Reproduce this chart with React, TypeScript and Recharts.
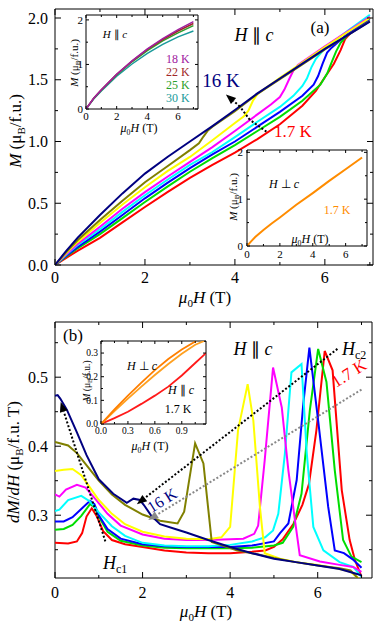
import React from 'react';
import { LineChart, Line, XAxis, YAxis, ReferenceArea, ReferenceLine } from 'recharts';

const FONT = "'Liberation Serif', 'Times New Roman', serif";
type P = [number, number];

// ---------- Panel (a): M(H), H || c  [T, muB/f.u.] ----------
const aRed: P[] = [[0,0],[0.25,0.058],[0.5,0.115],[1,0.22],[1.5,0.345],[2,0.47],[2.5,0.59],[3,0.705],[3.5,0.81],[4,0.91],[4.5,1.02],[5,1.14],[5.5,1.29],[5.8,1.41],[6.0,1.52],[6.2,1.63],[6.35,1.74],[6.45,1.83],[6.55,1.87],[7,2.0]];
const aGreen: P[] = [[0,0],[0.25,0.07],[0.5,0.135],[1,0.25],[1.5,0.38],[2,0.51],[2.5,0.635],[3,0.755],[3.5,0.865],[4,0.97],[4.5,1.085],[5,1.2],[5.5,1.33],[5.9,1.46],[6.05,1.55],[6.15,1.64],[6.25,1.73],[6.35,1.8],[6.5,1.86],[7,2.0]];
const aBlue: P[] = [[0,0],[0.25,0.075],[0.5,0.145],[1,0.27],[1.5,0.405],[2,0.54],[2.5,0.665],[3,0.785],[3.5,0.895],[4,1.0],[4.5,1.12],[5,1.24],[5.5,1.37],[5.75,1.46],[5.85,1.53],[5.95,1.63],[6.05,1.72],[6.15,1.76],[6.5,1.87],[7,1.99]];
const aCyan: P[] = [[0,0],[0.25,0.083],[0.5,0.16],[1,0.29],[1.5,0.43],[2,0.565],[2.5,0.69],[3,0.81],[3.5,0.915],[4,1.035],[4.5,1.16],[5,1.28],[5.3,1.37],[5.5,1.45],[5.6,1.51],[5.7,1.6],[5.8,1.67],[6,1.755],[6.5,1.895],[7,2.025]];
const aMagenta: P[] = [[0,0],[0.25,0.088],[0.5,0.17],[1,0.31],[1.5,0.455],[2,0.59],[2.5,0.715],[3,0.835],[3.5,0.955],[4,1.085],[4.5,1.22],[4.8,1.3],[5,1.36],[5.1,1.42],[5.2,1.5],[5.3,1.575],[5.4,1.62],[6,1.77],[6.5,1.89],[7,2.01]];
const aYellow: P[] = [[0,0],[0.25,0.097],[0.5,0.185],[1,0.34],[1.5,0.49],[2,0.63],[2.5,0.76],[3,0.875],[3.5,1.01],[4,1.15],[4.2,1.205],[4.3,1.25],[4.4,1.33],[4.5,1.385],[5,1.515],[5.5,1.64],[6,1.765],[6.5,1.885],[7,2.0]];
const aOlive: P[] = [[0,0],[0.25,0.105],[0.5,0.2],[1,0.365],[1.5,0.52],[2,0.67],[2.5,0.8],[3,0.93],[3.2,0.985],[3.3,1.04],[3.4,1.09],[3.5,1.12],[4,1.245],[4.5,1.385],[5,1.505],[5.5,1.625],[6,1.745],[6.5,1.86],[7,1.975]];
const aNavy: P[] = [[0,0],[0.25,0.115],[0.5,0.22],[1,0.405],[1.5,0.58],[2,0.74],[2.5,0.875],[3,1.0],[3.5,1.125],[4,1.255],[4.5,1.39],[5,1.51],[5.5,1.63],[6,1.75],[6.5,1.86],[7,1.97]];

// inset a1: higher temperatures, H || c
const i18K: P[] = [[0,0],[0.5,0.24],[1,0.43],[2,0.78],[3,1.08],[4,1.35],[5,1.58],[6,1.78],[7,1.96]];
const i22K: P[] = [[0,0],[0.5,0.24],[1,0.43],[2,0.78],[3,1.075],[4,1.34],[5,1.56],[6,1.75],[7,1.92]];
const i25K: P[] = [[0,0],[0.5,0.235],[1,0.42],[2,0.765],[3,1.06],[4,1.31],[5,1.53],[6,1.71],[7,1.87]];
const i30K: P[] = [[0,0],[0.5,0.225],[1,0.405],[2,0.735],[3,1.01],[4,1.25],[5,1.45],[6,1.62],[7,1.75]];
// inset a2: H perp c, 1.7 K
const iPerp: P[] = [[0,0],[0.25,0.1],[0.5,0.19],[1,0.34],[1.5,0.48],[2,0.61],[3,0.88],[4,1.13],[5,1.39],[6,1.64],[7,1.89]];

// ---------- Panel (b): dM/dH ----------
const bRed: P[] = [[0,0.26],[0.3,0.259],[0.5,0.262],[0.62,0.274],[0.72,0.298],[0.84,0.31],[0.95,0.299],[1.1,0.277],[1.3,0.264],[1.6,0.258],[2,0.254],[2.5,0.249],[3,0.246],[3.5,0.245],[4,0.245],[4.5,0.247],[4.8,0.249],[5.0,0.254],[5.2,0.265],[5.45,0.288],[5.65,0.315],[5.8,0.345],[5.97,0.423],[6.16,0.538],[6.34,0.51],[6.55,0.336],[6.73,0.264],[6.85,0.235],[7,0.211]];
const bGreen: P[] = [[0,0.279],[0.2,0.28],[0.4,0.286],[0.6,0.299],[0.8,0.316],[0.9,0.312],[1.0,0.298],[1.2,0.276],[1.5,0.263],[2,0.256],[2.5,0.253],[3,0.252],[3.5,0.252],[4,0.252],[4.5,0.253],[5.0,0.256],[5.2,0.26],[5.44,0.283],[5.63,0.331],[5.82,0.452],[6.01,0.541],[6.2,0.493],[6.39,0.365],[6.58,0.264],[6.77,0.24],[7,0.232]];
const bBlue: P[] = [[0,0.291],[0.2,0.291],[0.4,0.297],[0.6,0.309],[0.8,0.321],[0.9,0.316],[1.0,0.3],[1.2,0.28],[1.5,0.266],[2,0.258],[2.5,0.255],[3,0.254],[3.5,0.254],[4,0.254],[4.5,0.256],[5.0,0.262],[5.14,0.274],[5.33,0.288],[5.52,0.351],[5.67,0.461],[5.81,0.543],[6.01,0.437],[6.24,0.312],[6.39,0.249],[6.6,0.245],[6.8,0.236],[7,0.224]];
const bCyan: P[] = [[0,0.306],[0.1,0.308],[0.3,0.322],[0.6,0.328],[0.8,0.32],[1.0,0.304],[1.3,0.284],[1.6,0.27],[2,0.26],[2.5,0.256],[3,0.255],[3.5,0.255],[4,0.257],[4.5,0.262],[4.8,0.268],[4.98,0.278],[5.1,0.302],[5.25,0.389],[5.4,0.507],[5.63,0.519],[5.75,0.39],[5.9,0.283],[6.13,0.249],[6.5,0.232],[6.81,0.225],[7,0.211]];
const bMagenta: P[] = [[0,0.33],[0.1,0.327],[0.25,0.337],[0.5,0.344],[0.7,0.34],[0.9,0.325],[1.2,0.302],[1.5,0.285],[2,0.272],[2.5,0.266],[3,0.264],[3.5,0.264],[4,0.265],[4.3,0.266],[4.55,0.273],[4.64,0.285],[4.79,0.38],[4.98,0.514],[5.18,0.456],[5.33,0.365],[5.48,0.293],[5.59,0.242],[6.05,0.233],[6.5,0.228],[6.81,0.225],[7,0.218]];
const bYellow: P[] = [[0,0.364],[0.2,0.366],[0.4,0.367],[0.6,0.358],[0.8,0.34],[1.0,0.322],[1.3,0.302],[1.6,0.287],[2,0.276],[2.5,0.269],[3,0.266],[3.5,0.265],[3.8,0.268],[4.0,0.283],[4.18,0.423],[4.4,0.49],[4.53,0.437],[4.68,0.312],[4.79,0.245],[5.14,0.237],[5.5,0.232],[6,0.228],[6.5,0.222],[6.75,0.218],[7,0.205]];
const bOlive: P[] = [[0,0.406],[0.3,0.401],[0.5,0.39],[0.8,0.366],[1.0,0.35],[1.3,0.33],[1.6,0.315],[2,0.301],[2.4,0.292],[2.8,0.288],[2.95,0.305],[3.05,0.345],[3.2,0.404],[3.39,0.375],[3.58,0.261],[4.15,0.249],[4.5,0.245],[5,0.238],[5.5,0.232],[6,0.227],[6.5,0.223],[6.75,0.22],[7,0.203]];
const bNavy: P[] = [[0,0.473],[0.06,0.474],[0.12,0.469],[0.27,0.453],[0.5,0.42],[0.72,0.387],[1.0,0.352],[1.33,0.331],[1.64,0.318],[1.79,0.324],[1.94,0.322],[2.05,0.313],[2.2,0.299],[2.4,0.287],[2.8,0.279],[3.0,0.275],[3.5,0.264],[4,0.254],[4.5,0.245],[5,0.237],[5.5,0.232],[6,0.227],[6.5,0.222],[7,0.213]];

// inset b: low-field M(H) at 1.7 K
const ibPerp1: P[] = [[0,0],[0.15,0.062],[0.3,0.12],[0.45,0.175],[0.6,0.228],[0.75,0.275],[0.9,0.315],[1.06,0.351]];
const ibPerp2: P[] = [[0,0],[0.15,0.055],[0.3,0.107],[0.45,0.158],[0.6,0.207],[0.75,0.254],[0.9,0.297],[1.05,0.335],[1.15,0.351]];
const ibPar: P[] = [[0,0],[0.15,0.025],[0.3,0.052],[0.45,0.085],[0.6,0.12],[0.75,0.158],[0.9,0.205],[1.05,0.258],[1.17,0.3]];

// ---------- ticks ----------
const aXTicks = [0,1,2,3,4,5,6,7];
const aXLabels = ['0','','2','','4','','6',''];
const aYTicks = [0,0.25,0.5,0.75,1,1.25,1.5,1.75,2];
const aYLabels = ['0.0','','0.5','','1.0','','1.5','','2.0'];
const bYTicks = [0.25,0.3,0.35,0.4,0.45,0.5,0.55];
const bYLabels = ['','0.3','','0.4','','0.5',''];
const iXTicks = [0,1,2,3,4,5,6,7];
const iXLabels = ['0','','2','','4','','6',''];
const iYTicks = [0,0.5,1,1.5,2];
const iYLabels = ['0','','1','','2'];
const ibXTicks = [0,0.15,0.3,0.45,0.6,0.75,0.9,1.05];
const ibXLabels = ['0.0','','0.3','','0.6','','0.9',''];
const ibYTicks = [0,0.05,0.1,0.15,0.2,0.25,0.3,0.35];
const ibYLabels = ['0.0','','0.1','','0.2','','0.3',''];

const pts = (a: P[]) => a.map(([h, v]) => ({ h, v }));

const xTick = (ticks: number[], labels: string[], top: number, fs: number, dy: number, maj: number, mnr: number) => (p: any) => {
  const i = ticks.indexOf(p.payload.value);
  const lab = i >= 0 ? labels[i] : '';
  const len = lab ? maj : mnr;
  return (
    <g>
      <line x1={p.x} x2={p.x} y1={p.y} y2={p.y - len} stroke="#000" strokeWidth={1} />
      <line x1={p.x} x2={p.x} y1={top} y2={top + len} stroke="#000" strokeWidth={1} />
      {lab ? <text x={p.x} y={p.y + dy} textAnchor="middle" fontSize={fs} fontFamily={FONT} fill="#000">{lab}</text> : null}
    </g>
  );
};
const yTick = (ticks: number[], labels: string[], right: number, fs: number, dx: number, maj: number, mnr: number) => (p: any) => {
  const i = ticks.indexOf(p.payload.value);
  const lab = i >= 0 ? labels[i] : '';
  const len = lab ? maj : mnr;
  return (
    <g>
      <line x1={p.x} x2={p.x + len} y1={p.y} y2={p.y} stroke="#000" strokeWidth={1} />
      <line x1={right - len} x2={right} y1={p.y} y2={p.y} stroke="#000" strokeWidth={1} />
      {lab ? <text x={p.x - dx} y={p.y} dy="0.35em" textAnchor="end" fontSize={fs} fontFamily={FONT} fill="#000">{lab}</text> : null}
    </g>
  );
};

const arrow = (color: string, head: boolean) => (p: any) => {
  const { x1, y1, x2, y2 } = p;
  const a = Math.atan2(y2 - y1, x2 - x1);
  const L = 10, W = 4;
  const bx = x2 - L * Math.cos(a), by = y2 - L * Math.sin(a);
  const nx = -Math.sin(a) * W, ny = Math.cos(a) * W;
  return (
    <g>
      <line x1={x1} y1={y1} x2={head ? bx : x2} y2={head ? by : y2} stroke={color} strokeWidth={2} strokeDasharray="2 2" />
      {head ? <polygon points={`${x2},${y2} ${bx + nx},${by + ny} ${bx - nx},${by - ny}`} fill={color} /> : null}
    </g>
  );
};

const series = (d: P[], color: string, w = 2, key = '') => (
  <Line key={key || color} data={pts(d)} dataKey="v" type="linear" stroke={color} strokeWidth={w} dot={false} activeDot={false} isAnimationActive={false} />
);

function Plot(props: any) {
  const { w, h, x, y, m, yW, xH, xDom, yDom, xT, xL, yT, yL, fs, maj, mnr, xDy, yDx, children } = props;
  const right = w - m.right;
  return (
    <div style={{ position: 'absolute', left: x, top: y }}>
      <LineChart width={w} height={h} margin={m}>
        <XAxis type="number" dataKey="h" domain={xDom} ticks={xT} interval={0} allowDataOverflow tickLine={false} axisLine={false} tickSize={0} tickMargin={0} height={xH} tick={xTick(xT, xL, m.top, fs, xDy, maj, mnr)} />
        <YAxis type="number" dataKey="v" domain={yDom} ticks={yT} interval={0} allowDataOverflow tickLine={false} axisLine={false} tickSize={0} tickMargin={0} width={yW} tick={yTick(yT, yL, right, fs, yDx, maj, mnr)} />
        <ReferenceArea x1={xDom[0]} x2={xDom[1]} y1={yDom[0]} y2={yDom[1]} fill="none" stroke="#000" strokeWidth={1} ifOverflow="visible" />
        {children}
      </LineChart>
    </div>
  );
}

const It = ({ children }: any) => <tspan fontStyle="italic">{children}</tspan>;
const Mu0H = ({ s }: { s: number }) => (
  <>
    <tspan fontStyle="italic">μ</tspan>
    <tspan fontSize={s * 0.65} dy={s * 0.22}>0</tspan>
    <tspan fontStyle="italic" dy={-s * 0.22}>H</tspan>
    <tspan>{' (T)'}</tspan>
  </>
);
const MuB = ({ s, pre, post }: { s: number; pre: any; post: string }) => (
  <>
    {pre}
    <tspan>{' (μ'}</tspan>
    <tspan fontSize={s * 0.65} dy={s * 0.22}>B</tspan>
    <tspan dy={-s * 0.22}>{post}</tspan>
  </>
);
const HPar = () => (<><It>H</It><tspan>{' ∥ '}</tspan><It>c</It></>);
const HPerp = () => (<><It>H</It><tspan>{' ⊥ '}</tspan><It>c</It></>);

export default function App() {
  const mainA = { top: 9, right: 9, bottom: 0, left: 0 };
  const mainB = { top: 22, right: 10, bottom: 0, left: 0 };
  return (
    <div style={{ position: 'absolute', left: 0, top: 0, width: 382, height: 625, background: '#fff', fontFamily: FONT, overflow: 'hidden' }}>
      {/* Panel (a) */}
      <Plot w={382} h={300} x={0} y={0} m={mainA} yW={55} xH={35} xDom={[0, 7.07]} yDom={[0, 2.073]}
        xT={aXTicks} xL={aXLabels} yT={aYTicks} yL={aYLabels} fs={16} maj={6} mnr={3} xDy={18} yDx={7}>
        {series(aRed, '#ff0000')}
        {series(aGreen, '#00dd00')}
        {series(aBlue, '#0000ff')}
        {series(aCyan, '#00ffff')}
        {series(aMagenta, '#ff00ff')}
        {series(aYellow, '#ffff00')}
        {series(aOlive, '#808000')}
        {series(aNavy, '#000080')}
        <ReferenceLine segment={[{ x: 4.7, y: 1.08 }, { x: 4.33, y: 1.176 }]} ifOverflow="visible" shape={arrow('#000', false)} />
        <ReferenceLine segment={[{ x: 4.33, y: 1.176 }, { x: 4.11, y: 1.284 }]} ifOverflow="visible" shape={arrow('#000', false)} />
        <ReferenceLine segment={[{ x: 4.11, y: 1.284 }, { x: 3.8, y: 1.38 }]} ifOverflow="visible" shape={arrow('#000', true)} />
      </Plot>
      {/* inset a1 */}
      <Plot w={145} h={125} x={60} y={5} m={{ top: 10, right: 7, bottom: 0, left: 0 }} yW={26} xH={21} xDom={[0, 7.3]} yDom={[0, 2.11]}
        xT={iXTicks} xL={iXLabels} yT={iYTicks} yL={iYLabels} fs={11} maj={3} mnr={2} xDy={11} yDx={3}>
        {series(i30K, '#1a9a9a', 1.5)}
        {series(i25K, '#2ca02c', 1.5)}
        {series(i22K, '#a02828', 1.5)}
        {series(i18K, '#a020a0', 1.5)}
      </Plot>
      {/* inset a2 */}
      <Plot w={150} h={125} x={225} y={140} m={{ top: 10, right: 8, bottom: 0, left: 0 }} yW={22} xH={19} xDom={[0, 7.3]} yDom={[0, 2.05]}
        xT={iXTicks} xL={iXLabels} yT={iYTicks} yL={iYLabels} fs={11} maj={3} mnr={2} xDy={12} yDx={4}>
        {series(iPerp, '#ff8c00', 2)}
      </Plot>

      {/* Panel (b) */}
      <Plot w={382} h={325} x={0} y={300} m={mainB} yW={55} xH={47} xDom={[0, 7.24]} yDom={[0.209, 0.58]}
        xT={aXTicks} xL={aXLabels} yT={bYTicks} yL={bYLabels} fs={16} maj={6} mnr={3} xDy={20} yDx={7}>
        {series(bRed, '#ff0000')}
        {series(bGreen, '#00dd00')}
        {series(bBlue, '#0000ff')}
        {series(bCyan, '#00ffff')}
        {series(bMagenta, '#ff00ff')}
        {series(bYellow, '#ffff00')}
        {series(bOlive, '#808000')}
        {series(bNavy, '#000080')}
        <ReferenceLine segment={[{ x: 1.15, y: 0.262 }, { x: 0.13, y: 0.464 }]} ifOverflow="visible" shape={arrow('#000', true)} />
        <ReferenceLine segment={[{ x: 6.45, y: 0.541 }, { x: 1.87, y: 0.316 }]} ifOverflow="visible" shape={arrow('#000', true)} />
        <ReferenceLine segment={[{ x: 7.0, y: 0.482 }, { x: 2.13, y: 0.293 }]} ifOverflow="visible" shape={arrow('#888888', true)} />
      </Plot>
      {/* inset b */}
      <Plot w={145} h={115} x={70} y={330} m={{ top: 11, right: 9, bottom: 0, left: 0 }} yW={31} xH={21} xDom={[0, 1.17]} yDom={[0, 0.351]}
        xT={ibXTicks} xL={ibXLabels} yT={ibYTicks} yL={ibYLabels} fs={9.5} maj={3} mnr={2} xDy={10} yDx={3}>
        {series(ibPar, '#ff1a1a', 1.8)}
        {series(ibPerp2, '#ffa020', 1.8)}
        {series(ibPerp1, '#ff7f00', 1.8)}
      </Plot>

      {/* text annotations */}
      <svg width={382} height={625} style={{ position: 'absolute', left: 0, top: 0, pointerEvents: 'none' }} fontFamily={FONT}>
        {/* panel a */}
        <text transform="translate(21,131) rotate(-90)" textAnchor="middle" fontSize={17}><MuB s={17} pre={<It>M</It>} post="/f.u.)" /></text>
        <text x={205} y={303} textAnchor="middle" fontSize={17}><Mu0H s={17} /></text>
        <text x={320} y={33} textAnchor="middle" fontSize={17}>(a)</text>
        <text x={254} y={41} textAnchor="middle" fontSize={18}><HPar /></text>
        <text x={221} y={87} textAnchor="middle" fontSize={19} fill="#000080">16 K</text>
        <text x={293} y={137} textAnchor="middle" fontSize={17} fill="#ff0000">1.7 K</text>
        {/* inset a1 */}
        <text x={115} y={38} textAnchor="middle" fontSize={11}><HPar /></text>
        <text x={166} y={63} fontSize={12} fill="#a020a0">18 K</text>
        <text x={166} y={76} fontSize={12} fill="#a02828">22 K</text>
        <text x={166} y={89} fontSize={12} fill="#2ca02c">25 K</text>
        <text x={166} y={102} fontSize={12} fill="#1a9a9a">30 K</text>
        <text transform="translate(78,63) rotate(-90)" textAnchor="middle" fontSize={11}><MuB s={11} pre={<It>M</It>} post="/f.u.)" /></text>
        <text x={139} y={132} textAnchor="middle" fontSize={12}><Mu0H s={12} /></text>
        {/* inset a2 */}
        <text x={284} y={188} textAnchor="middle" fontSize={12}><HPerp /></text>
        <text x={337} y={214} textAnchor="middle" fontSize={12} fill="#ff8c00">1.7 K</text>
        <text x={310} y={243} textAnchor="middle" fontSize={12}><Mu0H s={12} /></text>
        <text transform="translate(237,197) rotate(-90)" textAnchor="middle" fontSize={11}><MuB s={11} pre={<It>M</It>} post="/f.u.)" /></text>

        {/* panel b */}
        <text transform="translate(19,462) rotate(-90)" textAnchor="middle" fontSize={17}><MuB s={17} pre={<><It>dM</It><tspan>/</tspan><It>dH</It></>} post="/f.u. T)" /></text>
        <text x={206} y={617} textAnchor="middle" fontSize={17}><Mu0H s={17} /></text>
        <text x={73} y={341} textAnchor="middle" fontSize={17}>(b)</text>
        <text x={253} y={355} textAnchor="middle" fontSize={18}><HPar /></text>
        <text x={342} y={355} fontSize={18}><It>H</It><tspan fontSize={12} dy={4}>c2</tspan></text>
        <text x={103} y={569} fontSize={18}><It>H</It><tspan fontSize={12} dy={4}>c1</tspan></text>
        <text transform="translate(352,378) rotate(-32)" textAnchor="middle" fontSize={17} fill="#ff0000">1.7 K</text>
        <text transform="translate(165,505) rotate(-32)" textAnchor="middle" fontSize={16} fill="#000080">16 K</text>
        {/* inset b */}
        <text x={142} y={370} textAnchor="middle" fontSize={12}><HPerp /></text>
        <text x={181} y={394} textAnchor="middle" fontSize={12}><HPar /></text>
        <text x={178} y={413} textAnchor="middle" fontSize={12}>1.7  K</text>
        <text transform="translate(90,381) rotate(-90)" textAnchor="middle" fontSize={9.5}><MuB s={9.5} pre={<It>M</It>} post="/f.u.)" /></text>
        <text x={150} y={450} textAnchor="middle" fontSize={12}><Mu0H s={12} /></text>
      </svg>
    </div>
  );
}
